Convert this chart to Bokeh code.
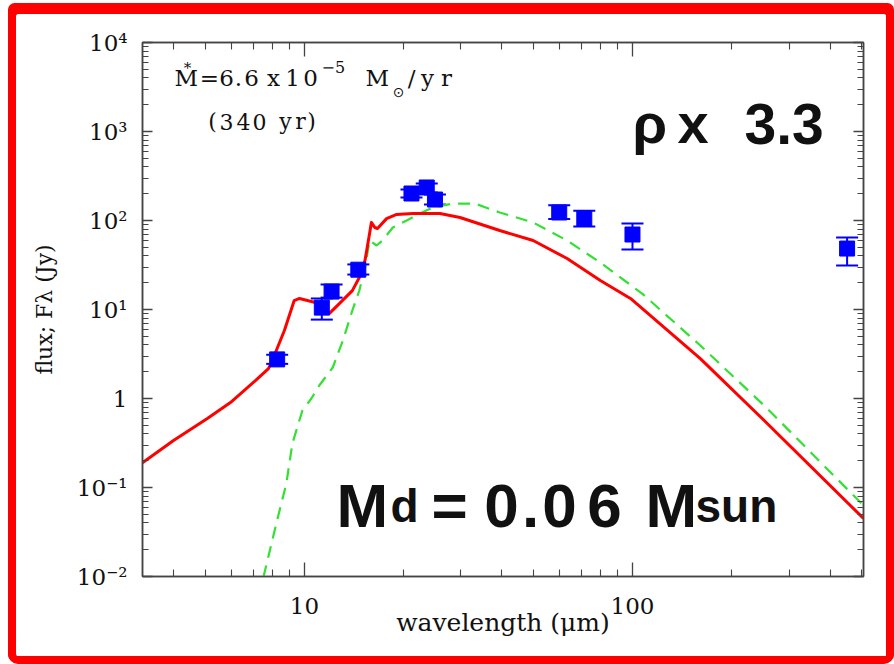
from math import log10
from bokeh.plotting import figure
from bokeh.models import (ColumnDataSource, LogAxis, Whisker, TeeHead, Label,
                          CustomJSTickFormatter, FixedTicker, Range1d)
from bokeh.embed import file_html
from bokeh.resources import INLINE

# ---------------- data ----------------
obs_wl = [8.26, 11.3, 12.1, 14.6, 21.2, 23.6, 25.0, 59.8, 71.3, 100.0, 451.0]
obs_flux = [2.75, 10.5, 15.9, 28.0, 201, 235, 172, 123, 105, 69.6, 48.4]
obs_hi = [3.1, 13.3, 19.1, 32.1, 223, 261, 196, 148, 129, 92.5, 64.4]
obs_lo = [2.45, 7.7, 13.6, 24.7, 181, 206, 151, 104, 85.7, 47.2, 31.2]

red_wl = [3.21, 3.99, 5.06, 5.95, 7.09, 7.77, 7.98, 8.69, 9.31, 9.66, 11.1, 11.9,
          12.8, 14.0, 14.7, 15.3, 15.8, 16.0, 16.4, 16.7, 17.8, 19.1, 21.4, 25.9,
          29.8, 39.4, 49.8, 63.2, 79.8, 98.6, 161, 252, 506]
red_fx = [0.19, 0.337, 0.595, 0.90, 1.59, 2.17, 2.67, 5.8, 12.6, 13.3, 11.7, 9.0,
          11.7, 16.3, 22.9, 35.6, 71.5, 95, 83.4, 81.3, 105, 117, 120, 120,
          108, 77.2, 59.6, 37.4, 21.2, 13.3, 2.81, 0.566, 0.0449]

green_wl = [7.5, 8.21, 8.81, 9.19, 9.86, 10.5, 11.1, 12.2, 13.1, 14.0, 14.7, 15.3,
            15.8, 16.6, 17.3, 18.6, 20.5, 22.5, 24.6, 28.4, 33.1, 39.4, 49.8, 63.2,
            79.8, 107, 161, 252, 506]
green_fx = [0.0098, 0.0394, 0.111, 0.312, 0.733, 1.0, 1.40, 2.23, 4.48, 9.75, 16.3, 29.6,
            59.6, 52.4, 59.6, 83.4, 100, 120, 140, 155, 155, 123, 95, 59.6,
            33.7, 15.1, 3.94, 0.834, 0.0628]

x_major = [10, 100]
x_labels = ["10", "100"]
x_minor = [k * 10 ** e for e in (0, 1, 2) for k in range(2, 10)]
y_major = [0.01, 0.1, 1, 10, 100, 1000, 10000]
y_labels = ["10\u207b\u00b2", "10\u207b\u00b9", "1", "10\u00b9", "10\u00b2", "10\u00b3", "10\u2074"]
y_minor = [k * 10.0 ** e for e in range(-2, 4) for k in range(2, 10)]

X0, X1 = 3.21, 506.0
Y0, Y1 = 0.01, 10000.0

# ---------------- layout geometry ----------------
OFF_X, OFF_Y = 16, 14              # canvas origin inside the red frame (page px)
W, H = 870, 642                    # canvas size
L, R, T, B = 142, 863, 42, 576     # plot frame (page px)

p = figure(width=W, height=H, x_axis_type="log", y_axis_type="log",
           x_range=Range1d(X0, X1), y_range=Range1d(Y0, Y1),
           output_backend="svg", toolbar_location=None,
           min_border_left=L - OFF_X, min_border_right=W - (R - OFF_X),
           min_border_top=T - OFF_Y, min_border_bottom=H - (B - OFF_Y))
# red rounded frame drawn around the figure (outline + shadow do not change its size)
p.styles = {"margin-left": f"{OFF_X}px", "margin-top": f"{OFF_Y}px",
            "outline": "8px solid #ff0000", "border-radius": "2px",
            "box-shadow": "0 -3px 0 8px #ff0000"}
p.background_fill_color = "white"
p.border_fill_color = "white"
p.outline_line_color = "#444444"
p.outline_line_width = 1.5
p.xgrid.visible = False
p.ygrid.visible = False

blank = CustomJSTickFormatter(code="return '';")
lookup = """
for (let i = 0; i < vals.length; i++) {
  if (Math.abs(Math.log10(tick) - Math.log10(vals[i])) < 1e-6) return labs[i];
}
return '';
"""
xfmt = CustomJSTickFormatter(args=dict(vals=x_major, labs=x_labels), code=lookup)
yfmt = CustomJSTickFormatter(args=dict(vals=y_major, labs=y_labels), code=lookup)


def style_axis(ax, major, minor, maj_len, min_len, labels=None, standoff=16):
    ax.ticker = FixedTicker(ticks=major, minor_ticks=minor)
    ax.axis_line_color = "#444444"
    ax.axis_line_width = 1.5
    ax.major_tick_line_color = "#444444"
    ax.minor_tick_line_color = "#444444"
    ax.major_tick_line_width = 1.3
    ax.minor_tick_line_width = 1.1
    ax.major_tick_in = maj_len
    ax.major_tick_out = 0
    ax.minor_tick_in = min_len
    ax.minor_tick_out = 0
    if labels is None:
        ax.formatter = blank
        ax.major_label_standoff = 0
    else:
        ax.formatter = labels
        ax.major_label_text_font = "DejaVu Serif"
        ax.major_label_text_font_size = "23px"
        ax.major_label_text_color = "#111111"
        ax.major_label_standoff = standoff
        ax.axis_label_text_font = "DejaVu Serif"
        ax.axis_label_text_font_style = "normal"
        ax.axis_label_text_color = "#111111"


xa = p.xaxis[0]
ya = p.yaxis[0]
style_axis(xa, x_major, x_minor, 14, 7, xfmt, standoff=21)
style_axis(ya, y_major, y_minor, 10, 6, yfmt, standoff=15)
xa.axis_label = "wavelength (\u03bcm)"
xa.axis_label_text_font_size = "25px"
xa.axis_label_standoff = -9
ya.axis_label = "flux; F\u03bb (Jy)"
ya.axis_label_text_font_size = "22px"
ya.axis_label_standoff = 17

top_ax = LogAxis()
right_ax = LogAxis()
style_axis(top_ax, x_major, x_minor, 14, 7)
style_axis(right_ax, y_major, y_minor, 10, 6)
p.add_layout(top_ax, "above")
p.add_layout(right_ax, "right")

# ---------------- glyphs ----------------
p.line(green_wl, green_fx, line_color="#33e033", line_width=2.2, line_dash="12 8")
p.line(red_wl, red_fx, line_color="#ff0000", line_width=3, line_join="round")

src = ColumnDataSource(dict(x=obs_wl, y=obs_flux, hi=obs_hi, lo=obs_lo))
p.add_layout(Whisker(source=src, base="x", upper="hi", lower="lo",
                     line_color="#0000ff", line_width=2,
                     upper_head=TeeHead(size=22, line_color="#0000ff", line_width=2),
                     lower_head=TeeHead(size=22, line_color="#0000ff", line_width=2)))
p.scatter("x", "y", source=src, marker="square", size=15,
          fill_color="#0000ff", line_color="#0000ff")


# ---------------- text (positions in page px, mapped into data space) ----------------
def xd(px):
    return 10 ** (log10(X0) + (px - L) / (R - L) * (log10(X1) - log10(X0)))


def yd(py):
    return 10 ** (log10(Y1) - (py - T) / (B - T) * (log10(Y1) - log10(Y0)))


def lab(text, px, py, size, font="DejaVu Serif", align="left", baseline="alphabetic",
        style="normal", color="#111111"):
    p.add_layout(Label(x=xd(px), y=yd(py), text=text, text_font=font,
                       text_font_size=f"{size}px", text_align=align,
                       text_baseline=baseline, text_font_style=style,
                       text_color=color))


# mass-loss annotation
lab("M", 174, 77, 23)
lab("*", 187, 67, 15, align="center")
for ch, cx in [("=", 209), ("6", 226), (".", 238), ("6", 251), ("x", 273),
               ("1", 292), ("0", 310)]:
    lab(ch, cx, 77, 23, align="center")
lab("\u22125", 321, 66, 16)
lab("M", 365, 77, 23)
lab("\u2299", 398, 91, 14, font="DejaVu Sans", align="center")
for ch, cx in [("/", 411), ("y", 427), ("r", 446)]:
    lab(ch, cx, 77, 23, align="center")
for ch, cx in [("(", 212), ("3", 226), ("4", 243), ("0", 259), ("y", 285),
               ("r", 300), (")", 311)]:
    lab(ch, cx, 121, 22, align="center")

# big labels
BF = "Liberation Sans"
lab("\u03c1", 632, 123, 56, font=BF, style="bold")
lab("x", 677, 123, 56, font=BF, style="bold")
lab("3.3", 744, 123, 57, font=BF, style="bold")

lab("M", 336, 505, 62, font=BF, style="bold")
lab("d", 390, 505, 46, font=BF, style="bold")
lab("=", 449, 505, 62, font=BF, style="bold", align="center")
for ch, cx in [("0", 501), (".", 530), ("0", 559), ("6", 604)]:
    lab(ch, cx, 505, 62, font=BF, style="bold", align="center")
lab("M", 645, 505, 62, font=BF, style="bold")
lab("sun", 695, 505, 46, font=BF, style="bold")

open("out.html", "w").write(file_html(p, INLINE))
